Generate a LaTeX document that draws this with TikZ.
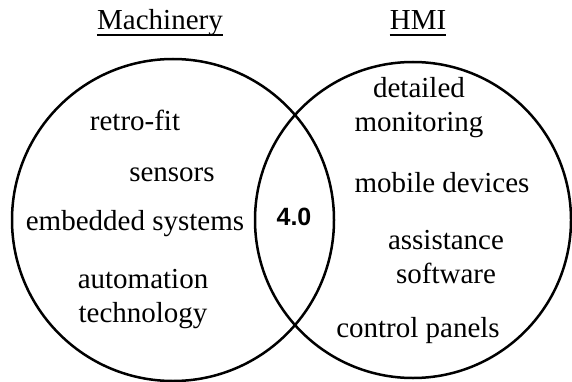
\documentclass[tikz,border=0pt]{standalone}
\usepackage{fontspec}
\setmainfont{Liberation Serif}
\newfontfamily\numfont{Liberation Sans}
\begin{document}
\begin{tikzpicture}[x=1pt,y=-1pt,
  lbl/.style={inner sep=0pt,anchor=base,font=\fontsize{29}{34}\selectfont,align=center},
  ring/.style={circle,draw=black,line width=2.5pt,inner sep=0pt,outer sep=0pt},
  uline/.style={line width=1.3pt}]
\useasboundingbox (0,0) rectangle (572,382);
\node[ring,minimum size=322pt] (L) at (173,220) {};
\node[ring,minimum size=316pt] (R) at (413,220) {};
% headings
\node[lbl] (mach) at (160,30) {Machinery};
\node[lbl] (hmi) at (418,30) {HMI};
\draw[uline] ([yshift=-5pt]mach.base west) -- ([yshift=-5pt]mach.base east);
\draw[uline] ([yshift=-5pt]hmi.base west) -- ([yshift=-5pt]hmi.base east);
% left items
\node[lbl] (retro) at (135,131) {retro-fit};
\node[lbl] (sens) at (172,182) {sensors};
\node[lbl] (emb) at (135,230) {embedded systems};
\node[lbl] (auto) at (143,322) {automation\\technology};
% center
\node[inner sep=0pt,anchor=base,font=\numfont\bfseries\fontsize{25}{30}\selectfont] (four) at (294,225) {4.0};
% right items
\node[lbl] (det) at (419,132) {detailed\\monitoring};
\node[lbl] (mob) at (442,192) {mobile devices};
\node[lbl] (ass) at (446,283) {assistance\\software};
\node[lbl] (ctl) at (418,337) {control panels};
\end{tikzpicture}
\end{document}
